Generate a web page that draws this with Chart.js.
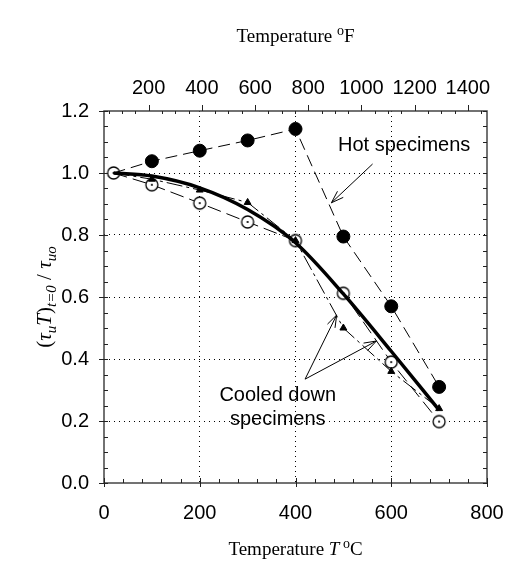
<!DOCTYPE html>
<html>
<head>
<meta charset="utf-8">
<script src="https://cdn.jsdelivr.net/npm/chart.js@4"></script>
<style>
  html, body { margin: 0; padding: 0; background: #fff; }
  #wrap { width: 509px; height: 563px; }
</style>
</head>
<body>
<div id="wrap"><canvas id="chart" width="509" height="563"></canvas></div>
<script>
// data
const tempC = [20, 100, 200, 300, 400, 500, 600, 700];
const hotValues = [1.0, 1.038, 1.072, 1.105, 1.142, 0.795, 0.57, 0.31];
const cooledTriValues = [1.0, 0.98, 0.945, 0.905, 0.782, 0.50, 0.36, 0.24];
const cooledOpenValues = [1.0, 0.962, 0.903, 0.842, 0.782, 0.612, 0.39, 0.198];
const fitValues = [1.0, 0.99, 0.952, 0.882, 0.775, 0.61, 0.425, 0.235];

const xTicksC = [0, 200, 400, 600, 800];
const xTicksF = [200, 400, 600, 800, 1000, 1200, 1400];
const yTicks = [0, 0.2, 0.4, 0.6, 0.8, 1.0, 1.2];

// annotations (data units): arrow start / end
const hotLabel = { text: 'Hot specimens', x: 627, y: 1.09 };
const hotArrows = [[561, 1.029, 475, 0.904]];
const cooledLabel = ['Cooled down', 'specimens'];
const cooledLabelPos = { x: 363, y: 0.283 };
const cooledArrows = [[420, 0.335, 486, 0.542], [420, 0.335, 569, 0.458]];

const SANS = 'Arial, "Liberation Sans", sans-serif';
const SERIF = '"Times New Roman", "Liberation Serif", serif';

// open circle with centre dot
function openDot() {
    const c = document.createElement('canvas');
    c.width = 16; c.height = 16;
    const g = c.getContext('2d');
    g.fillStyle = '#fff';
    g.strokeStyle = '#000';
    g.lineWidth = 1.3;
    g.beginPath(); g.arc(8, 8, 6, 0, Math.PI * 2); g.fill(); g.stroke();
    g.fillStyle = '#000';
    g.beginPath(); g.arc(8, 8, 1.1, 0, Math.PI * 2); g.fill();
    return c;
}

function drawRich(ctx, parts, cx, cy) {
    let w = 0;
    parts.forEach(p => { ctx.font = p.f; p.w = ctx.measureText(p.t).width; w += p.w; });
    let x = cx - w / 2;
    ctx.textAlign = 'left';
    ctx.textBaseline = 'alphabetic';
    parts.forEach(p => {
        ctx.font = p.f;
        ctx.fillText(p.t, x, cy + (p.dy || 0));
        x += p.w;
    });
}

function arrow(ctx, x1, y1, x2, y2) {
    const a = Math.atan2(y2 - y1, x2 - x1);
    const len = 13, sp = 0.33;
    ctx.beginPath();
    ctx.moveTo(x1, y1); ctx.lineTo(x2, y2);
    ctx.moveTo(x2 - len * Math.cos(a - sp), y2 - len * Math.sin(a - sp));
    ctx.lineTo(x2, y2);
    ctx.lineTo(x2 - len * Math.cos(a + sp), y2 - len * Math.sin(a + sp));
    ctx.stroke();
}

const extras = {
    id: 'extras',
    afterDraw(chart) {
        const ctx = chart.ctx;
        const { left, right, top, bottom } = chart.chartArea;
        const xs = chart.scales.x, ys = chart.scales.y, fs = chart.scales.xF;
        ctx.save();

        // frame
        ctx.strokeStyle = '#444';
        ctx.lineWidth = 1.5;
        ctx.strokeRect(left, top, right - left, bottom - top);

        // tick marks
        ctx.lineWidth = 1;
        ctx.strokeStyle = '#222';
        ctx.beginPath();
        for (let v = 0; v <= 800; v += 40) {
            const px = Math.round(xs.getPixelForValue(v)) + 0.5;
            const major = v % 200 === 0;
            ctx.moveTo(px, bottom + (major ? 4 : 0));
            ctx.lineTo(px, bottom - (major ? 5 : 4));
        }
        for (let v = 50; v <= 1450; v += 50) {
            const px = Math.round(fs.getPixelForValue(v)) + 0.5;
            const major = v % 200 === 0;
            ctx.moveTo(px, top - (major ? 6 : 0));
            ctx.lineTo(px, top + (major ? 0 : 3));
        }
        for (let i = 0; i <= 24; i++) {
            const v = i * 0.05;
            const py = Math.round(ys.getPixelForValue(v)) + 0.5;
            const major = i % 4 === 0;
            ctx.moveTo(left - (major ? 5 : 0), py);
            ctx.lineTo(left + 4, py);
            ctx.moveTo(right, py);
            ctx.lineTo(right - 4, py);
        }
        ctx.stroke();

        // arrows
        ctx.strokeStyle = '#000';
        ctx.lineWidth = 1;
        hotArrows.concat(cooledArrows).forEach(a => {
            arrow(ctx, xs.getPixelForValue(a[0]), ys.getPixelForValue(a[1]),
                       xs.getPixelForValue(a[2]), ys.getPixelForValue(a[3]));
        });

        // annotation text
        ctx.fillStyle = '#000';
        ctx.font = '20px ' + SANS;
        ctx.textAlign = 'center';
        ctx.textBaseline = 'middle';
        ctx.fillText(hotLabel.text, xs.getPixelForValue(hotLabel.x), ys.getPixelForValue(hotLabel.y));
        const cx = xs.getPixelForValue(cooledLabelPos.x), cy = ys.getPixelForValue(cooledLabelPos.y);
        ctx.fillText(cooledLabel[0], cx, cy);
        ctx.fillText(cooledLabel[1], cx, cy + 24);

        // axis titles
        const mid = (left + right) / 2;
        drawRich(ctx, [
            { t: 'Temperature ', f: '19px ' + SERIF },
            { t: 'T', f: 'italic 19px ' + SERIF },
            { t: ' o', f: '14px ' + SERIF, dy: -7 },
            { t: 'C', f: '19px ' + SERIF }
        ], mid, 555);
        drawRich(ctx, [
            { t: 'Temperature ', f: '19px ' + SERIF },
            { t: 'o', f: '14px ' + SERIF, dy: -7 },
            { t: 'F', f: '19px ' + SERIF }
        ], mid, 42);

        ctx.translate(44, (top + bottom) / 2);
        ctx.rotate(-Math.PI / 2);
        drawRich(ctx, [
            { t: '(', f: '21px ' + SERIF },
            { t: 'τ', f: 'italic 21px ' + SERIF },
            { t: 'u', f: 'italic 15px ' + SERIF, dy: 5 },
            { t: 'T', f: 'italic 21px ' + SERIF },
            { t: ')', f: '21px ' + SERIF },
            { t: 't=0', f: 'italic 15px ' + SERIF, dy: 5 },
            { t: ' / ', f: '21px ' + SERIF },
            { t: 'τ', f: 'italic 21px ' + SERIF },
            { t: 'uo', f: 'italic 15px ' + SERIF, dy: 5 }
        ], 0, 7);
        ctx.restore();
    }
};

const noSidePad = s => { s.paddingLeft = 0; s.paddingRight = 0; };

const myChart = new Chart(document.getElementById('chart'), {
    type: 'line',
    data: {
        datasets: [
            {
                label: 'Fit',
                data: tempC.map((t, i) => ({ x: t, y: fitValues[i] })),
                borderColor: '#000',
                borderWidth: 3.5,
                pointRadius: 0,
                cubicInterpolationMode: 'monotone',
                order: 1
            },
            {
                label: 'Hot specimens',
                data: tempC.map((t, i) => ({ x: t, y: hotValues[i] })),
                borderColor: '#000',
                borderWidth: 1,
                borderDash: [12, 6],
                backgroundColor: '#000',
                pointStyle: 'circle',
                pointRadius: ctx => ctx.dataIndex === 0 ? 0 : 6.5,
                order: 2
            },
            {
                label: 'Cooled (open)',
                data: tempC.map((t, i) => ({ x: t, y: cooledOpenValues[i] })),
                borderColor: '#000',
                borderWidth: 1,
                borderDash: [14, 6],
                pointStyle: openDot(),
                pointRadius: 7,
                order: 4
            },
            {
                label: 'Cooled (triangle)',
                data: tempC.map((t, i) => ({ x: t, y: cooledTriValues[i] })),
                borderColor: '#000',
                borderWidth: 1,
                borderDash: [16, 4, 3, 4],
                backgroundColor: '#000',
                pointStyle: 'triangle',
                pointRadius: ctx => ctx.dataIndex === 0 ? 0 : 4,
                order: 3
            }
        ]
    },
    options: {
        responsive: false,
        devicePixelRatio: 1,
        animation: false,
        layout: { padding: { left: 0, right: 22, top: 0, bottom: 0 } },
        plugins: { legend: { display: false }, tooltip: { enabled: false } },
        scales: {
            x: {
                type: 'linear',
                position: 'bottom',
                min: 0, max: 800,
                afterBuildTicks: s => { s.ticks = xTicksC.map(v => ({ value: v })); },
                afterFit: s => { s.height = 80; noSidePad(s); },
                ticks: { color: '#000', font: { family: SANS, size: 20 }, padding: 18, maxRotation: 0,
                         callback: v => String(v) },
                grid: {
                    drawTicks: false,
                    color: c => (c.tick && (c.tick.value === 0 || c.tick.value === 800)) ? 'rgba(0,0,0,0)' : '#000'
                },
                border: { display: false, dash: [1, 4] }
            },
            xF: {
                type: 'linear',
                position: 'top',
                min: 32, max: 1472,
                afterBuildTicks: s => { s.ticks = xTicksF.map(v => ({ value: v })); },
                afterFit: s => { s.height = 111; noSidePad(s); },
                ticks: { color: '#000', font: { family: SANS, size: 20 }, padding: 11, maxRotation: 0,
                         callback: v => String(v) },
                grid: { display: false, drawTicks: false },
                border: { display: false }
            },
            y: {
                min: 0, max: 1.2,
                afterBuildTicks: s => { s.ticks = yTicks.map(v => ({ value: v })); },
                afterFit: s => { s.width = 104; },
                ticks: {
                    color: '#000', font: { family: SANS, size: 20 }, padding: 15,
                    callback: v => Number(v).toFixed(1)
                },
                grid: {
                    drawTicks: false,
                    color: c => (c.tick && (c.tick.value === 0 || c.tick.value === 1.2)) ? 'rgba(0,0,0,0)' : '#000'
                },
                border: { display: false, dash: [1, 4] }
            }
        }
    },
    plugins: [extras]
});
</script>
</body>
</html>
